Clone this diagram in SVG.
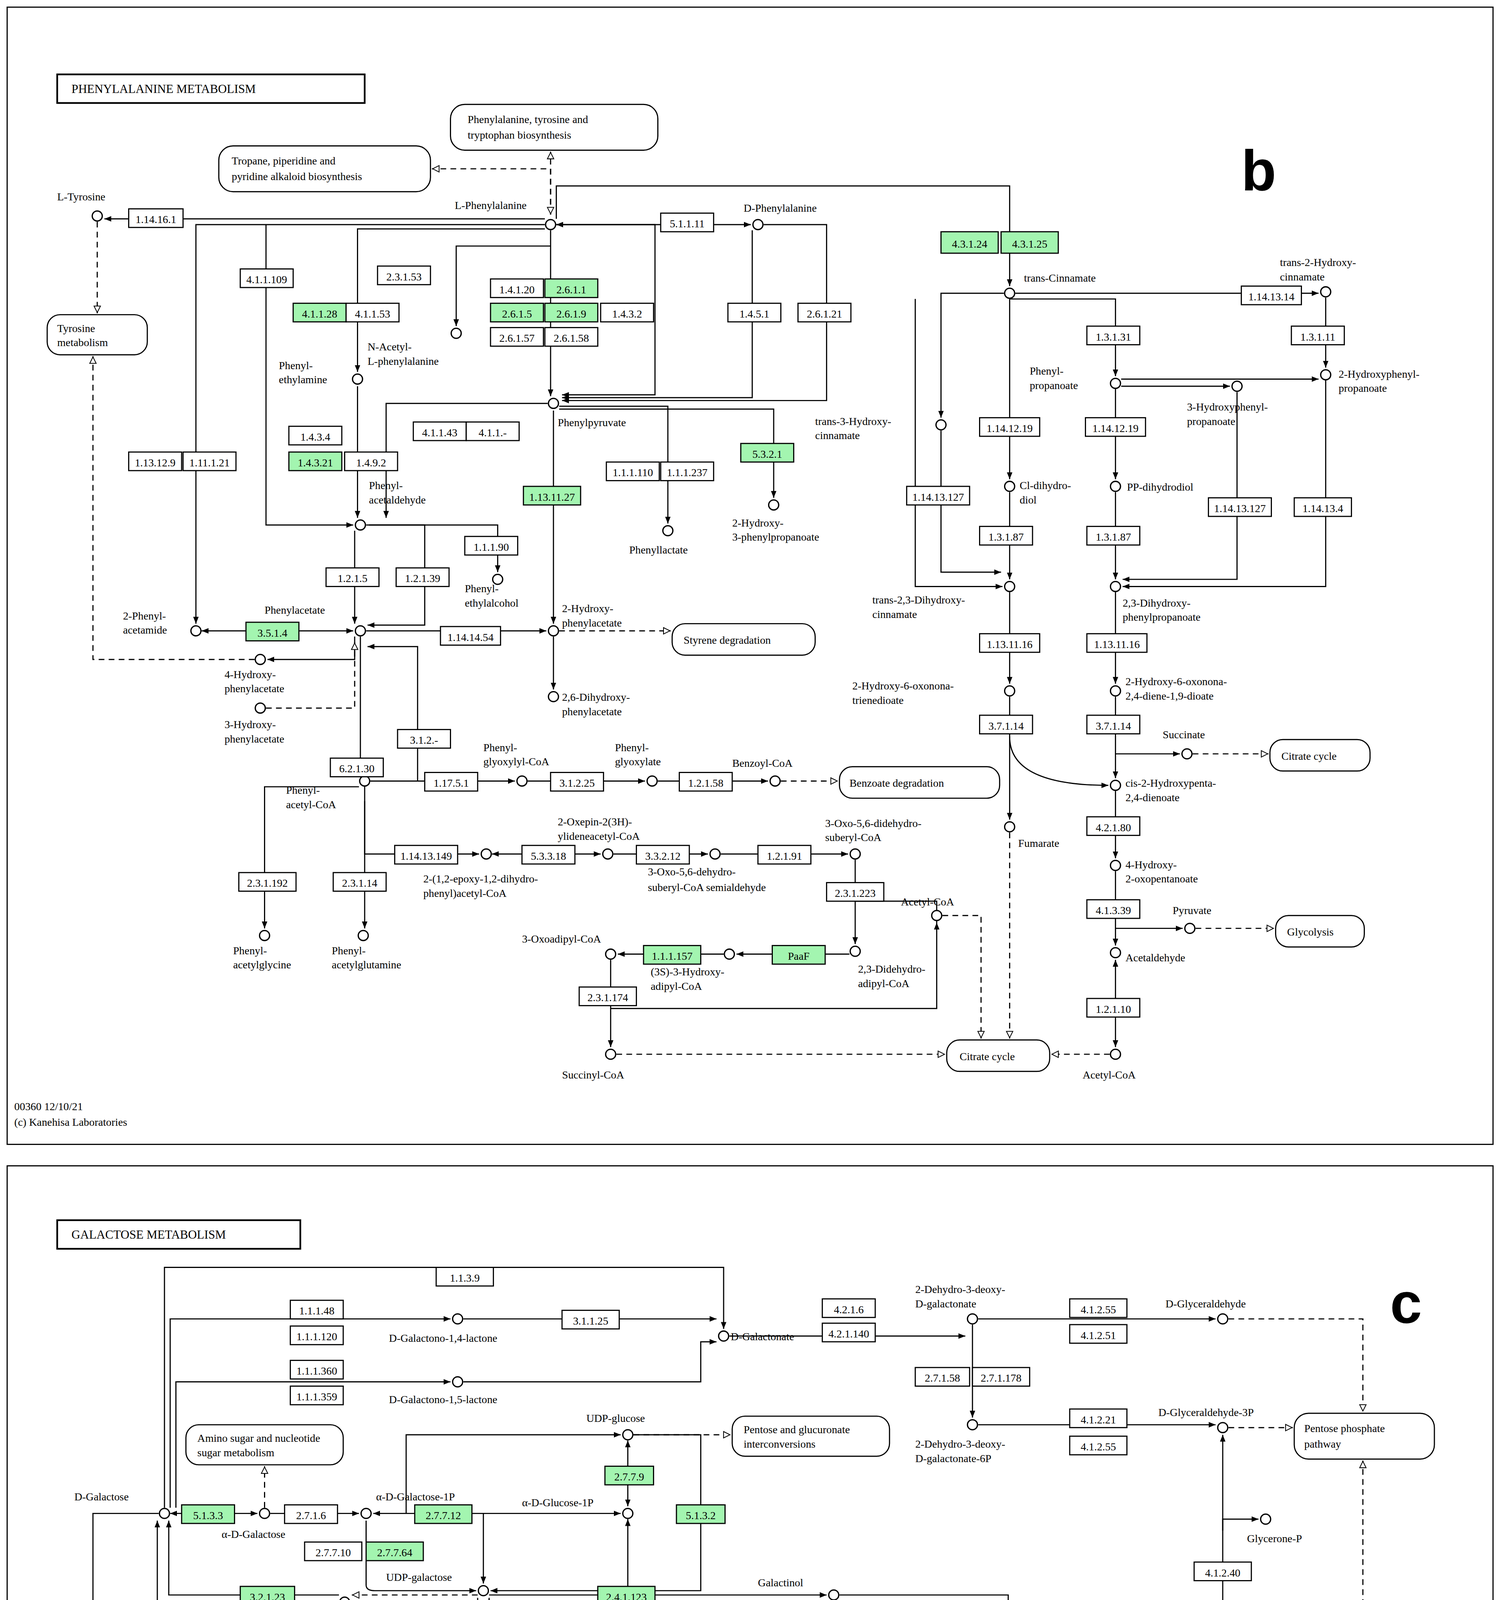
<svg xmlns="http://www.w3.org/2000/svg" width="3841" height="5739" viewBox="0 0 3841 5739">
<defs>
<marker id="a" viewBox="0 0 10 10" refX="10" refY="5" markerWidth="6" markerHeight="6" orient="auto-start-reverse"><path d="M0,1 L10,5 L0,9 Z" fill="#000"/></marker>
<marker id="o" viewBox="0 0 10 10" refX="10" refY="5" markerWidth="7" markerHeight="7" orient="auto-start-reverse"><path d="M1,1 L9,5 L1,9 Z" fill="#fff" stroke="#000"/></marker>
<style>
.e{fill:#fff;stroke:#000;stroke-width:0.8}
.g{fill:#a3f5b0;stroke:#000;stroke-width:0.8}
.m{fill:#fff;stroke:#000;stroke-width:0.8}
.l{font-family:"Liberation Serif",serif;font-size:7.6px;text-anchor:middle}
.n{font-family:"Liberation Serif",serif;font-size:7.6px}
.c{fill:#fff;stroke:#000;stroke-width:0.9}
.s{fill:none;stroke:#000;stroke-width:0.8}
.s path{marker-end:url(#a)}
.d{fill:none;stroke:#000;stroke-width:0.8;stroke-dasharray:4,3}
.d path{marker-end:url(#o)}
.big{font-family:"Liberation Sans",sans-serif;font-weight:bold;font-size:40px}
.t{font-family:"Liberation Serif",serif;font-size:8.5px}
</style>
</defs>
<rect width="3841" height="5739" fill="#fff"/>
<g transform="scale(3.662)">
<rect x="5" y="5" width="1039" height="795" fill="none" stroke="#000" stroke-width="0.8"/>
<rect x="5" y="815" width="1039" height="747" fill="none" stroke="#000" stroke-width="0.8"/>
<g id="titleb"><rect x="40" y="52" width="215" height="20" fill="#fff" stroke="#000" stroke-width="1.2"/><text class="t" x="50" y="65">PHENYLALANINE METABOLISM</text></g>
<text class="big" x="868" y="133">b</text>
<g id="titlec"><rect x="40" y="853" width="170" height="20" fill="#fff" stroke="#000" stroke-width="1.2"/><text class="t" x="50" y="866">GALACTOSE METABOLISM</text></g>
<text class="big" x="972" y="925">c</text>
<text class="n" x="10" y="776">00360 12/10/21</text><text class="n" x="10" y="787">(c) Kanehisa Laboratories</text>
<text class="n" x="10" y="1543">00052 8/20/21</text><text class="n" x="10" y="1554">(c) Kanehisa Laboratories</text>

<g id="connectors">
<g class="s">
<path d="M381,153 H73"/>
<path d="M389,157 H525" marker-start="url(#a)"/>
<path d="M526,161 V278 H393"/>
<path d="M534,157 H578 V280 H393"/>
<path d="M385,161 V277"/>
<path d="M389,157 H458 V276 H393"/>
<path d="M389,153 V130 H706 V200"/>
<path d="M381,160 H250 V260"/>
<path d="M385,172 H319 V228"/>
<path d="M381,157 H137 V436"/>
<path d="M186,157 V367 H247"/>
<path d="M250,270 V362"/>
<path d="M383,282 H270 V362"/>
<path d="M391,284 H467 V366"/>
<path d="M391,286 H541 V348"/>
<path d="M387,287 V436"/>
<path d="M387,445 V482"/>
<path d="M256,367 H348 V400"/>
<path d="M248,371 V436"/>
<path d="M258,367 H297 V437 H257"/>
<path d="M141,441 H247" marker-start="url(#a)"/>
<path d="M256,441 H382"/>
<path d="M248,445 V461 H187"/>
<path d="M252,445 V541"/>
<path d="M259,546 H292 V452 H257"/>
<path d="M259,546 H360"/>
<path d="M369,546 H451"/>
<path d="M460,546 H537"/>
<path d="M255,550 V597 H335"/>
<path d="M344,597 H420" marker-start="url(#a)"/>
<path d="M429,597 H495"/>
<path d="M504,597 H593"/>
<path d="M598,601 V660"/>
<path d="M598,630 H655 V645"/>
<path d="M594,667 H515"/>
<path d="M506,667 H432"/>
<path d="M427,671 V732"/>
<path d="M427,705 H655 V645"/>
<path d="M251,550 H185 V649"/>
<path d="M255,560 V649"/>
<path d="M710,205 H922"/>
<path d="M927,208 V257"/>
<path d="M706,209 H780 V263"/>
<path d="M702,205 H658 V292"/>
<path d="M706,209 V335"/>
<path d="M640,209 V410 H701"/>
<path d="M706,344 V405"/>
<path d="M658,301 V400 H700"/>
<path d="M784,265 H922"/>
<path d="M784,270 H860"/>
<path d="M780,272 V335"/>
<path d="M780,344 V405"/>
<path d="M865,274 V405 H785"/>
<path d="M927,266 V410 H785"/>
<path d="M706,414 V478"/>
<path d="M780,414 V478"/>
<path d="M706,487 V573"/>
<path d="M706,515 Q706,549 775,549"/>
<path d="M780,487 V544"/>
<path d="M780,527 H825"/>
<path d="M780,553 V600"/>
<path d="M780,609 V661"/>
<path d="M780,649 H827"/>
<path d="M780,732 V671" marker-start="url(#a)"/>
</g>
<g class="d">
<path d="M68,155 V219"/>
<path d="M178,461 H65 V249"/>
<path d="M186,495 H248 V449"/>
<path d="M385,150 V118 H302"/>
<path d="M385,150 V106" marker-start="url(#o)"/>
<path d="M391,441 H469"/>
<path d="M546,546 H586"/>
<path d="M659,640 H686 V726"/>
<path d="M431,737 H661"/>
<path d="M776,737 H735"/>
<path d="M706,582 V726"/>
<path d="M834,527 H887"/>
<path d="M836,649 H891"/>
</g>
<!-- panel c -->
<g class="s">
<path d="M119,1058 H180" marker-start="url(#a)"/>
<path d="M189,1058 H251"/>
<path d="M261,1058 H434" marker-start="url(#a)"/>
<path d="M338,1058 V1107"/>
<path d="M256,1063 V1108 Q256,1112 262,1112 H333"/>
<path d="M284,1058 V1003 H434"/>
<path d="M439,1007 V1053" marker-start="url(#a)"/>
<path d="M443,1003 H490 V1112 H343"/>
<path d="M342,1115 H578"/>
<path d="M342,1117 V1158" marker-start="url(#a)"/>
<path d="M334,1117 V1162 H245"/>
<path d="M236,1162 H110 V1063"/>
<path d="M237,1115 H118 V1063"/>
<path d="M240,1166 V1268"/>
<path d="M236,1162 H137 V1219 H307"/>
<path d="M240,1277 V1412"/>
<path d="M316,1219 H434" marker-start="url(#a)"/>
<path d="M439,1062 V1214" marker-start="url(#a)"/>
<path d="M312,1214 V1198 H434 V1214"/>
<path d="M583,1119 V1130 H546 V1175"/>
<path d="M550,1182 H678"/>
<path d="M546,1184 V1221"/>
<path d="M546,1230 V1279"/>
<path d="M546,1288 V1320 H610"/>
<path d="M615,1182 V1315"/>
<path d="M615,1324 V1382"/>
<path d="M610,1324 H546 V1382"/>
<path d="M542,1182 H480 V1387 H541"/>
<path d="M542,1226 H510 V1383 H543"/>
<path d="M683,1186 V1382"/>
<path d="M683,1350 H620 V1382"/>
<path d="M587,1115 H705 V1370 H622 V1382"/>
<path d="M111,1058 H65 V1456 H390"/>
<path d="M65,1250 H138"/><path d="M80,1250 V1274"/>
<path d="M65,1302 H138"/><path d="M80,1302 V1326"/>
<path d="M65,1356 H138"/><path d="M80,1356 V1378"/>
<path d="M65,1408 H138"/><path d="M80,1408 V1432"/>
<path d="M399,1462 H628" marker-start="url(#a)"/>
<path d="M395,1466 V1487 H628"/>
<path d="M637,1487 H847 V1467"/>
<path d="M637,1462 H846" marker-start="url(#a)"/>
<path d="M855,1462 H948"/>
<path d="M244,1417 H843 V1457"/>
<path d="M115,1054 V886 H506 V929"/>
<path d="M119,1054 V922 H315"/>
<path d="M123,1054 V966 H315"/>
<path d="M324,922 H501"/>
<path d="M324,966 H490 V938 H501"/>
<path d="M510,934 H675"/>
<path d="M684,922 H850"/>
<path d="M680,926 V991"/>
<path d="M684,996 H850"/>
<path d="M855,1201 V1003"/>
<path d="M855,1070 V1062 H880"/>
<path d="M852,1457 V1210" marker-start="url(#a)"/>
<path d="M764,1219 V1270"/>
<path d="M764,1279 V1366"/>
<path d="M720,1291 V1371 H759"/>
<path d="M768,1371 H846 V1457"/>
</g>
<g class="d">
<path d="M185,1054 V1025"/>
<path d="M443,1003 H511"/>
<path d="M439,1223 V1261"/>
<path d="M312,1294 V1224"/>
<path d="M953,1458 V1021"/>
<path d="M859,922 H953 V987"/>
<path d="M859,998 H904"/>
<path d="M334,1115 H246"/>
</g>
</g>

<g id="n_pathways">
<g id="pw1"><rect class="m" x="33" y="220" width="70" height="28" rx="9"/><text class="n" x="40" y="232">Tyrosine</text><text class="n" x="40" y="242">metabolism</text></g>
<g id="pw2"><rect class="m" x="153" y="102" width="148" height="32" rx="10"/><text class="n" x="162" y="115">Tropane, piperidine and</text><text class="n" x="162" y="126">pyridine alkaloid biosynthesis</text></g>
<g id="pw3"><rect class="m" x="315" y="73" width="145" height="32" rx="10"/><text class="n" x="327" y="86">Phenylalanine, tyrosine and</text><text class="n" x="327" y="97">tryptophan biosynthesis</text></g>
<g id="pw4"><rect class="m" x="470" y="436" width="100" height="22" rx="9"/><text class="n" x="478" y="450">Styrene degradation</text></g>
<g id="pw5"><rect class="m" x="587" y="536" width="112" height="22" rx="9"/><text class="n" x="594" y="550">Benzoate degradation</text></g>
<g id="pw6"><rect class="m" x="662" y="727" width="72" height="22" rx="9"/><text class="n" x="671" y="741">Citrate cycle</text></g>
<g id="pw7"><rect class="m" x="888" y="517" width="70" height="22" rx="9"/><text class="n" x="896" y="531">Citrate cycle</text></g>
<g id="pw8"><rect class="m" x="892" y="640" width="62" height="22" rx="9"/><text class="n" x="900" y="654">Glycolysis</text></g>
</g>
<g id="cpd_b">
<circle class="c" cx="68" cy="151" r="3.5"/><text class="n" x="40" y="140">L-Tyrosine</text>
<circle class="c" cx="385" cy="157" r="3.5"/><text class="n" x="318" y="146">L-Phenylalanine</text>
<circle class="c" cx="530" cy="157" r="3.5"/><text class="n" x="520" y="148">D-Phenylalanine</text>
<circle class="c" cx="706" cy="205" r="3.5"/><text class="n" x="716" y="197">trans-Cinnamate</text>
<circle class="c" cx="927" cy="204" r="3.5"/><text class="n" x="895" y="186">trans-2-Hydroxy-</text><text class="n" x="895" y="196">cinnamate</text>
<circle class="c" cx="927" cy="262" r="3.5"/><text class="n" x="936" y="264">2-Hydroxyphenyl-</text><text class="n" x="936" y="274">propanoate</text>
<circle class="c" cx="780" cy="268" r="3.5"/><text class="n" x="720" y="262">Phenyl-</text><text class="n" x="720" y="272">propanoate</text>
<circle class="c" cx="865" cy="270" r="3.5"/><text class="n" x="830" y="287">3-Hydroxyphenyl-</text><text class="n" x="830" y="297">propanoate</text>
<circle class="c" cx="658" cy="297" r="3.5"/><text class="n" x="570" y="297">trans-3-Hydroxy-</text><text class="n" x="570" y="307">cinnamate</text>
<circle class="c" cx="706" cy="340" r="3.5"/><text class="n" x="713" y="342">Cl-dihydro-</text><text class="n" x="713" y="352">diol</text>
<circle class="c" cx="780" cy="340" r="3.5"/><text class="n" x="788" y="343">PP-dihydrodiol</text>
<circle class="c" cx="706" cy="410" r="3.5"/><text class="n" x="610" y="422">trans-2,3-Dihydroxy-</text><text class="n" x="610" y="432">cinnamate</text>
<circle class="c" cx="780" cy="410" r="3.5"/><text class="n" x="785" y="424">2,3-Dihydroxy-</text><text class="n" x="785" y="434">phenylpropanoate</text>
<circle class="c" cx="706" cy="483" r="3.5"/><text class="n" x="596" y="482">2-Hydroxy-6-oxonona-</text><text class="n" x="596" y="492">trienedioate</text>
<circle class="c" cx="780" cy="483" r="3.5"/><text class="n" x="787" y="479">2-Hydroxy-6-oxonona-</text><text class="n" x="787" y="489">2,4-diene-1,9-dioate</text>
<circle class="c" cx="830" cy="527" r="3.5"/><text class="n" x="813" y="516">Succinate</text>
<circle class="c" cx="780" cy="549" r="3.5"/><text class="n" x="787" y="550">cis-2-Hydroxypenta-</text><text class="n" x="787" y="560">2,4-dienoate</text>
<circle class="c" cx="706" cy="578" r="3.5"/><text class="n" x="712" y="592">Fumarate</text>
<circle class="c" cx="780" cy="605" r="3.5"/><text class="n" x="787" y="607">4-Hydroxy-</text><text class="n" x="787" y="617">2-oxopentanoate</text>
<circle class="c" cx="832" cy="649" r="3.5"/><text class="n" x="820" y="639">Pyruvate</text>
<circle class="c" cx="780" cy="666" r="3.5"/><text class="n" x="787" y="672">Acetaldehyde</text>
<circle class="c" cx="780" cy="737" r="3.5"/><text class="n" x="757" y="754">Acetyl-CoA</text>
<circle class="c" cx="427" cy="737" r="3.5"/><text class="n" x="393" y="754">Succinyl-CoA</text>
<circle class="c" cx="655" cy="640" r="3.5"/><text class="n" x="630" y="633">Acetyl-CoA</text>
<circle class="c" cx="427" cy="667" r="3.5"/><text class="n" x="365" y="659">3-Oxoadipyl-CoA</text>
<circle class="c" cx="510" cy="667" r="3.5"/><text class="n" x="455" y="682">(3S)-3-Hydroxy-</text><text class="n" x="455" y="692">adipyl-CoA</text>
<circle class="c" cx="598" cy="665" r="3.5"/><text class="n" x="600" y="680">2,3-Didehydro-</text><text class="n" x="600" y="690">adipyl-CoA</text>
<circle class="c" cx="598" cy="597" r="3.5"/><text class="n" x="577" y="578">3-Oxo-5,6-didehydro-</text><text class="n" x="577" y="588">suberyl-CoA</text>
<circle class="c" cx="500" cy="597" r="3.5"/><text class="n" x="453" y="612">3-Oxo-5,6-dehydro-</text><text class="n" x="453" y="623">suberyl-CoA semialdehyde</text>
<circle class="c" cx="425" cy="597" r="3.5"/><text class="n" x="390" y="577">2-Oxepin-2(3H)-</text><text class="n" x="390" y="587">ylideneacetyl-CoA</text>
<circle class="c" cx="340" cy="597" r="3.5"/><text class="n" x="296" y="617">2-(1,2-epoxy-1,2-dihydro-</text><text class="n" x="296" y="627">phenyl)acetyl-CoA</text>
<circle class="c" cx="255" cy="546" r="3.5"/><text class="n" x="200" y="555">Phenyl-</text><text class="n" x="200" y="565">acetyl-CoA</text>
<circle class="c" cx="365" cy="546" r="3.5"/><text class="n" x="338" y="525">Phenyl-</text><text class="n" x="338" y="535">glyoxylyl-CoA</text>
<circle class="c" cx="456" cy="546" r="3.5"/><text class="n" x="430" y="525">Phenyl-</text><text class="n" x="430" y="535">glyoxylate</text>
<circle class="c" cx="542" cy="546" r="3.5"/><text class="n" x="512" y="536">Benzoyl-CoA</text>
<circle class="c" cx="185" cy="654" r="3.5"/><text class="n" x="163" y="667">Phenyl-</text><text class="n" x="163" y="677">acetylglycine</text>
<circle class="c" cx="254" cy="654" r="3.5"/><text class="n" x="232" y="667">Phenyl-</text><text class="n" x="232" y="677">acetylglutamine</text>
<circle class="c" cx="252" cy="441" r="3.5"/><text class="n" x="185" y="429">Phenylacetate</text>
<circle class="c" cx="137" cy="441" r="3.5"/><text class="n" x="86" y="433">2-Phenyl-</text><text class="n" x="86" y="443">acetamide</text>
<circle class="c" cx="182" cy="461" r="3.5"/><text class="n" x="157" y="474">4-Hydroxy-</text><text class="n" x="157" y="484">phenylacetate</text>
<circle class="c" cx="182" cy="495" r="3.5"/><text class="n" x="157" y="509">3-Hydroxy-</text><text class="n" x="157" y="519">phenylacetate</text>
<circle class="c" cx="387" cy="441" r="3.5"/><text class="n" x="393" y="428">2-Hydroxy-</text><text class="n" x="393" y="438">phenylacetate</text>
<circle class="c" cx="387" cy="487" r="3.5"/><text class="n" x="393" y="490">2,6-Dihydroxy-</text><text class="n" x="393" y="500">phenylacetate</text>
<circle class="c" cx="348" cy="405" r="3.5"/><text class="n" x="325" y="414">Phenyl-</text><text class="n" x="325" y="424">ethylalcohol</text>
<circle class="c" cx="252" cy="367" r="3.5"/><text class="n" x="258" y="342">Phenyl-</text><text class="n" x="258" y="352">acetaldehyde</text>
<circle class="c" cx="250" cy="265" r="3.5"/><text class="n" x="195" y="258">Phenyl-</text><text class="n" x="195" y="268">ethylamine</text>
<circle class="c" cx="319" cy="233" r="3.5"/><text class="n" x="257" y="245">N-Acetyl-</text><text class="n" x="257" y="255">L-phenylalanine</text>
<circle class="c" cx="387" cy="282" r="3.5"/><text class="n" x="390" y="298">Phenylpyruvate</text>
<circle class="c" cx="467" cy="371" r="3.5"/><text class="n" x="440" y="387">Phenyllactate</text>
<circle class="c" cx="541" cy="353" r="3.5"/><text class="n" x="512" y="368">2-Hydroxy-</text><text class="n" x="512" y="378">3-phenylpropanoate</text>
</g>
<g id="enz_b">
<g><rect class="e" x="90" y="146" width="38" height="13"/><text class="l" x="109" y="156">1.14.16.1</text></g>
<g><rect class="e" x="168" y="188" width="37" height="13"/><text class="l" x="186.5" y="198">4.1.1.109</text></g>
<g><rect class="e" x="264" y="186" width="37" height="13"/><text class="l" x="282.5" y="196">2.3.1.53</text></g>
<g><rect class="e" x="343" y="195" width="37" height="13"/><text class="l" x="361.5" y="205">1.4.1.20</text></g>
<g><rect class="g" x="381" y="195" width="37" height="13"/><text class="l" x="399.5" y="205">2.6.1.1</text></g>
<g><rect class="g" x="343" y="212" width="37" height="13"/><text class="l" x="361.5" y="222">2.6.1.5</text></g>
<g><rect class="g" x="381" y="212" width="37" height="13"/><text class="l" x="399.5" y="222">2.6.1.9</text></g>
<g><rect class="e" x="343" y="229" width="37" height="13"/><text class="l" x="361.5" y="239">2.6.1.57</text></g>
<g><rect class="e" x="381" y="229" width="37" height="13"/><text class="l" x="399.5" y="239">2.6.1.58</text></g>
<g><rect class="e" x="420" y="212" width="37" height="13"/><text class="l" x="438.5" y="222">1.4.3.2</text></g>
<g><rect class="e" x="462" y="149" width="37" height="13"/><text class="l" x="480.5" y="159">5.1.1.11</text></g>
<g><rect class="e" x="509" y="212" width="37" height="13"/><text class="l" x="527.5" y="222">1.4.5.1</text></g>
<g><rect class="e" x="558" y="212" width="37" height="13"/><text class="l" x="576.5" y="222">2.6.1.21</text></g>
<g><rect class="g" x="205" y="212" width="37" height="13"/><text class="l" x="223.5" y="222">4.1.1.28</text></g>
<g><rect class="e" x="242" y="212" width="37" height="13"/><text class="l" x="260.5" y="222">4.1.1.53</text></g>
<g><rect class="e" x="202" y="298" width="37" height="13"/><text class="l" x="220.5" y="308">1.4.3.4</text></g>
<g><rect class="g" x="202" y="316" width="37" height="13"/><text class="l" x="220.5" y="326">1.4.3.21</text></g>
<g><rect class="e" x="241" y="316" width="37" height="13"/><text class="l" x="259.5" y="326">1.4.9.2</text></g>
<g><rect class="e" x="289" y="295" width="37" height="13"/><text class="l" x="307.5" y="305">4.1.1.43</text></g>
<g><rect class="e" x="326" y="295" width="37" height="13"/><text class="l" x="344.5" y="305">4.1.1.-</text></g>
<g><rect class="e" x="90" y="316" width="37" height="13"/><text class="l" x="108.5" y="326">1.13.12.9</text></g>
<g><rect class="e" x="128" y="316" width="37" height="13"/><text class="l" x="146.5" y="326">1.11.1.21</text></g>
<g><rect class="g" x="366" y="340" width="40" height="13"/><text class="l" x="386" y="350">1.13.11.27</text></g>
<g><rect class="e" x="424" y="323" width="37" height="13"/><text class="l" x="442.5" y="333">1.1.1.110</text></g>
<g><rect class="e" x="462" y="323" width="37" height="13"/><text class="l" x="480.5" y="333">1.1.1.237</text></g>
<g><rect class="g" x="518" y="310" width="37" height="13"/><text class="l" x="536.5" y="320">5.3.2.1</text></g>
<g><rect class="e" x="325" y="375" width="37" height="13"/><text class="l" x="343.5" y="385">1.1.1.90</text></g>
<g><rect class="e" x="228" y="397" width="37" height="13"/><text class="l" x="246.5" y="407">1.2.1.5</text></g>
<g><rect class="e" x="277" y="397" width="37" height="13"/><text class="l" x="295.5" y="407">1.2.1.39</text></g>
<g><rect class="g" x="172" y="435" width="37" height="13"/><text class="l" x="190.5" y="445">3.5.1.4</text></g>
<g><rect class="e" x="308" y="438" width="42" height="13"/><text class="l" x="329" y="448">1.14.14.54</text></g>
<g><rect class="e" x="278" y="510" width="37" height="13"/><text class="l" x="296.5" y="520">3.1.2.-</text></g>
<g><rect class="e" x="231" y="530" width="37" height="13"/><text class="l" x="249.5" y="540">6.2.1.30</text></g>
<g><rect class="e" x="297" y="540" width="37" height="13"/><text class="l" x="315.5" y="550">1.17.5.1</text></g>
<g><rect class="e" x="385" y="540" width="37" height="13"/><text class="l" x="403.5" y="550">3.1.2.25</text></g>
<g><rect class="e" x="475" y="540" width="37" height="13"/><text class="l" x="493.5" y="550">1.2.1.58</text></g>
<g><rect class="e" x="276" y="591" width="44" height="13"/><text class="l" x="298" y="601">1.14.13.149</text></g>
<g><rect class="e" x="365" y="591" width="37" height="13"/><text class="l" x="383.5" y="601">5.3.3.18</text></g>
<g><rect class="e" x="445" y="591" width="37" height="13"/><text class="l" x="463.5" y="601">3.3.2.12</text></g>
<g><rect class="e" x="530" y="591" width="37" height="13"/><text class="l" x="548.5" y="601">1.2.1.91</text></g>
<g><rect class="e" x="578" y="617" width="40" height="13"/><text class="l" x="598" y="627">2.3.1.223</text></g>
<g><rect class="e" x="167" y="610" width="40" height="13"/><text class="l" x="187" y="620">2.3.1.192</text></g>
<g><rect class="e" x="233" y="610" width="37" height="13"/><text class="l" x="251.5" y="620">2.3.1.14</text></g>
<g><rect class="g" x="450" y="661" width="40" height="13"/><text class="l" x="470" y="671">1.1.1.157</text></g>
<g><rect class="g" x="540" y="661" width="37" height="13"/><text class="l" x="558.5" y="671">PaaF</text></g>
<g><rect class="e" x="405" y="690" width="40" height="13"/><text class="l" x="425" y="700">2.3.1.174</text></g>
<g><rect class="g" x="658" y="162" width="40" height="15"/><text class="l" x="678" y="173">4.3.1.24</text></g>
<g><rect class="g" x="700" y="162" width="40" height="15"/><text class="l" x="720" y="173">4.3.1.25</text></g>
<g><rect class="e" x="868" y="200" width="42" height="13"/><text class="l" x="889" y="210">1.14.13.14</text></g>
<g><rect class="e" x="760" y="228" width="37" height="13"/><text class="l" x="778.5" y="238">1.3.1.31</text></g>
<g><rect class="e" x="903" y="228" width="37" height="13"/><text class="l" x="921.5" y="238">1.3.1.11</text></g>
<g><rect class="e" x="685" y="292" width="42" height="13"/><text class="l" x="706" y="302">1.14.12.19</text></g>
<g><rect class="e" x="759" y="292" width="42" height="13"/><text class="l" x="780" y="302">1.14.12.19</text></g>
<g><rect class="e" x="634" y="340" width="44" height="13"/><text class="l" x="656" y="350">1.14.13.127</text></g>
<g><rect class="e" x="845" y="348" width="44" height="13"/><text class="l" x="867" y="358">1.14.13.127</text></g>
<g><rect class="e" x="905" y="348" width="40" height="13"/><text class="l" x="925" y="358">1.14.13.4</text></g>
<g><rect class="e" x="685" y="368" width="37" height="13"/><text class="l" x="703.5" y="378">1.3.1.87</text></g>
<g><rect class="e" x="760" y="368" width="37" height="13"/><text class="l" x="778.5" y="378">1.3.1.87</text></g>
<g><rect class="e" x="685" y="443" width="42" height="13"/><text class="l" x="706" y="453">1.13.11.16</text></g>
<g><rect class="e" x="760" y="443" width="42" height="13"/><text class="l" x="781" y="453">1.13.11.16</text></g>
<g><rect class="e" x="685" y="500" width="37" height="13"/><text class="l" x="703.5" y="510">3.7.1.14</text></g>
<g><rect class="e" x="760" y="500" width="37" height="13"/><text class="l" x="778.5" y="510">3.7.1.14</text></g>
<g><rect class="e" x="760" y="571" width="37" height="13"/><text class="l" x="778.5" y="581">4.2.1.80</text></g>
<g><rect class="e" x="760" y="629" width="37" height="13"/><text class="l" x="778.5" y="639">4.1.3.39</text></g>
<g><rect class="e" x="760" y="698" width="37" height="13"/><text class="l" x="778.5" y="708">1.2.1.10</text></g>
</g>

<g id="pw_c">
<g><rect class="m" x="512" y="990" width="110" height="28" rx="9"/><text class="n" x="520" y="1002">Pentose and glucuronate</text><text class="n" x="520" y="1012">interconversions</text></g>
<g><rect class="m" x="130" y="996" width="110" height="28" rx="9"/><text class="n" x="138" y="1008">Amino sugar and nucleotide</text><text class="n" x="138" y="1018">sugar metabolism</text></g>
<g><rect class="m" x="410" y="1262" width="62" height="22" rx="9"/><text class="n" x="418" y="1276">Glycolysis</text></g>
<g><rect class="m" x="268" y="1296" width="105" height="28" rx="9"/><text class="n" x="276" y="1308">Fructose and mannose</text><text class="n" x="276" y="1318">metabolism</text></g>
<g><rect class="m" x="905" y="988" width="98" height="32" rx="10"/><text class="n" x="912" y="1001">Pentose phosphate</text><text class="n" x="912" y="1012">pathway</text></g>
</g>
<g id="cpd_c">
<circle class="c" cx="115" cy="1058" r="3.5"/><text class="n" x="52" y="1049">D-Galactose</text>
<circle class="c" cx="185" cy="1058" r="3.5"/><text class="n" x="155" y="1075">α-D-Galactose</text>
<circle class="c" cx="256" cy="1058" r="3.5"/><text class="n" x="263" y="1049">α-D-Galactose-1P</text>
<circle class="c" cx="338" cy="1112" r="3.5"/><text class="n" x="270" y="1105">UDP-galactose</text>
<circle class="c" cx="439" cy="1003" r="3.5"/><text class="n" x="410" y="994">UDP-glucose</text>
<circle class="c" cx="439" cy="1058" r="3.5"/><text class="n" x="365" y="1053">α-D-Glucose-1P</text>
<circle class="c" cx="241" cy="1120" r="3.5"/><text class="n" x="226" y="1137">Galactan</text>
<circle class="c" cx="240" cy="1162" r="3.5"/><text class="n" x="226" y="1158">Lactose</text>
<circle class="c" cx="342" cy="1163" r="3.5"/><text class="n" x="350" y="1162">UDP-D-</text><text class="n" x="350" y="1172">galactofuranose</text>
<circle class="c" cx="583" cy="1115" r="3.5"/><text class="n" x="530" y="1109">Galactinol</text>
<circle class="c" cx="546" cy="1180" r="3.5"/><text class="n" x="513" y="1175">Raffinose</text>
<circle class="c" cx="683" cy="1182" r="3.5"/><text class="n" x="692" y="1185">Sucrose</text>
<circle class="c" cx="546" cy="1226" r="3.5"/><text class="n" x="555" y="1229">Stachyose</text>
<circle class="c" cx="546" cy="1284" r="3.5"/><text class="n" x="555" y="1287">Manninotriose</text>
<circle class="c" cx="615" cy="1320" r="3.5"/><text class="n" x="625" y="1323">Melibiose</text>
<circle class="c" cx="312" cy="1219" r="3.5"/><text class="n" x="267" y="1235">α-D-Glucose</text>
<circle class="c" cx="439" cy="1219" r="3.5"/><text class="n" x="405" y="1235">α-D-Glucose-6P</text>
<circle class="c" cx="240" cy="1273" r="3.5"/><text class="n" x="247" y="1276">Lactose-6P</text>
<circle class="c" cx="240" cy="1417" r="3.5"/><text class="n" x="215" y="1433">D-Galactose-6P</text>
<circle class="c" cx="546" cy="1387" r="3.5"/><text class="n" x="520" y="1403">D-Galactose</text>
<circle class="c" cx="616" cy="1387" r="3.5"/><text class="n" x="595" y="1403">D-Glucose</text>
<circle class="c" cx="681" cy="1387" r="3.5"/><text class="n" x="663" y="1403">D-Fructose</text>
<circle class="c" cx="320" cy="922" r="3.5"/><text class="n" x="272" y="938">D-Galactono-1,4-lactone</text>
<circle class="c" cx="320" cy="966" r="3.5"/><text class="n" x="272" y="981">D-Galactono-1,5-lactone</text>
<circle class="c" cx="506" cy="934" r="3.5"/><text class="n" x="511" y="937">D-Galactonate</text>
<circle class="c" cx="680" cy="922" r="3.5"/><text class="n" x="640" y="904">2-Dehydro-3-deoxy-</text><text class="n" x="640" y="914">D-galactonate</text>
<circle class="c" cx="680" cy="996" r="3.5"/><text class="n" x="640" y="1012">2-Dehydro-3-deoxy-</text><text class="n" x="640" y="1022">D-galactonate-6P</text>
<circle class="c" cx="855" cy="922" r="3.5"/><text class="n" x="815" y="914">D-Glyceraldehyde</text>
<circle class="c" cx="855" cy="998" r="3.5"/><text class="n" x="810" y="990">D-Glyceraldehyde-3P</text>
<circle class="c" cx="885" cy="1062" r="3.5"/><text class="n" x="872" y="1078">Glycerone-P</text>
<circle class="c" cx="855" cy="1205" r="3.5"/><text class="n" x="862" y="1208">D-Tagatose-1,6P2</text>
<circle class="c" cx="764" cy="1215" r="3.5"/><text class="n" x="738" y="1193">N-Acetyl-</text><text class="n" x="738" y="1203">D-galactosamine</text>
<circle class="c" cx="764" cy="1275" r="3.5"/><text class="n" x="770" y="1268">N-Acetyl-</text><text class="n" x="770" y="1278">D-galactosamine-6P</text>
<circle class="c" cx="720" cy="1287" r="3.5"/><text class="n" x="686" y="1283">D-Galactosamine</text>
<circle class="c" cx="764" cy="1371" r="3.5"/><text class="n" x="738" y="1388">D-Galactosamine-6P</text>
<circle class="c" cx="851" cy="1462" r="3.5"/><text class="n" x="780" y="1473">D-Tagatose-6P</text>
<circle class="c" cx="953" cy="1462" r="3.5"/><text class="n" x="930" y="1478">D-Fructose-6P</text>
<circle class="c" cx="633" cy="1462" r="3.5"/><text class="n" x="605" y="1451">D-Tagatose</text>
<circle class="c" cx="395" cy="1462" r="3.5"/><text class="n" x="377" y="1453">Galactitol</text>
<circle class="c" cx="633" cy="1487" r="3.5"/><text class="n" x="608" y="1503">Galactitol-1P</text>
<circle class="c" cx="143" cy="1250" r="3.5"/><text class="n" x="152" y="1253">Galactinol</text>
<circle class="c" cx="80" cy="1279" r="3.5"/><text class="n" x="88" y="1282">D-myo-Inositol</text>
<circle class="c" cx="143" cy="1302" r="3.5"/><text class="n" x="152" y="1305">Melibiitol</text>
<circle class="c" cx="80" cy="1331" r="3.5"/><text class="n" x="88" y="1334">D-Sorbitol</text>
<circle class="c" cx="143" cy="1356" r="3.5"/><text class="n" x="152" y="1359">Epimelibiose</text>
<circle class="c" cx="80" cy="1383" r="3.5"/><text class="n" x="88" y="1386">D-Mannose</text>
<circle class="c" cx="143" cy="1408" r="3.5"/><text class="n" x="152" y="1406">Galactosyl-</text><text class="n" x="152" y="1416">glycerol</text>
<circle class="c" cx="80" cy="1437" r="3.5"/><text class="n" x="88" y="1440">Glycerol</text>
</g>
<g id="enz_c">
<g><rect class="e" x="305" y="886" width="40" height="13"/><text class="l" x="325" y="896">1.1.3.9</text></g>
<g><rect class="e" x="203" y="909" width="37" height="13"/><text class="l" x="221.5" y="919">1.1.1.48</text></g>
<g><rect class="e" x="203" y="927" width="37" height="13"/><text class="l" x="221.5" y="937">1.1.1.120</text></g>
<g><rect class="e" x="203" y="951" width="37" height="13"/><text class="l" x="221.5" y="961">1.1.1.360</text></g>
<g><rect class="e" x="203" y="969" width="37" height="13"/><text class="l" x="221.5" y="979">1.1.1.359</text></g>
<g><rect class="e" x="393" y="916" width="40" height="13"/><text class="l" x="413" y="926">3.1.1.25</text></g>
<g><rect class="e" x="575" y="908" width="37" height="13"/><text class="l" x="593.5" y="918">4.2.1.6</text></g>
<g><rect class="e" x="575" y="925" width="37" height="13"/><text class="l" x="593.5" y="935">4.2.1.140</text></g>
<g><rect class="e" x="640" y="956" width="38" height="13"/><text class="l" x="659" y="966">2.7.1.58</text></g>
<g><rect class="e" x="680" y="956" width="40" height="13"/><text class="l" x="700" y="966">2.7.1.178</text></g>
<g><rect class="e" x="748" y="908" width="40" height="13"/><text class="l" x="768" y="918">4.1.2.55</text></g>
<g><rect class="e" x="748" y="926" width="40" height="13"/><text class="l" x="768" y="936">4.1.2.51</text></g>
<g><rect class="e" x="748" y="985" width="40" height="13"/><text class="l" x="768" y="995">4.1.2.21</text></g>
<g><rect class="e" x="748" y="1004" width="40" height="13"/><text class="l" x="768" y="1014">4.1.2.55</text></g>
<g><rect class="e" x="835" y="1092" width="40" height="13"/><text class="l" x="855" y="1102">4.1.2.40</text></g>
<g><rect class="g" x="127" y="1052" width="37" height="13"/><text class="l" x="145.5" y="1062">5.1.3.3</text></g>
<g><rect class="e" x="199" y="1052" width="37" height="13"/><text class="l" x="217.5" y="1062">2.7.1.6</text></g>
<g><rect class="g" x="290" y="1052" width="40" height="13"/><text class="l" x="310" y="1062">2.7.7.12</text></g>
<g><rect class="e" x="213" y="1078" width="40" height="13"/><text class="l" x="233" y="1088">2.7.7.10</text></g>
<g><rect class="g" x="256" y="1078" width="40" height="13"/><text class="l" x="276" y="1088">2.7.7.64</text></g>
<g><rect class="g" x="423" y="1025" width="34" height="13"/><text class="l" x="440" y="1035">2.7.7.9</text></g>
<g><rect class="g" x="473" y="1052" width="34" height="13"/><text class="l" x="490" y="1062">5.1.3.2</text></g>
<g><rect class="g" x="168" y="1109" width="38" height="13"/><text class="l" x="187" y="1119">3.2.1.23</text></g>
<g><rect class="g" x="418" y="1109" width="40" height="13"/><text class="l" x="438" y="1119">2.4.1.123</text></g>
<g><rect class="e" x="338" y="1135" width="38" height="13"/><text class="l" x="357" y="1145">5.4.99.9</text></g>
<g><rect class="g" x="153" y="1150" width="38" height="13"/><text class="l" x="172" y="1160">3.2.1.23</text></g>
<g><rect class="e" x="153" y="1167" width="38" height="13"/><text class="l" x="172" y="1177">3.2.1.108</text></g>
<g><rect class="e" x="272" y="1156" width="38" height="13"/><text class="l" x="291" y="1166">2.4.1.22</text></g>
<g><rect class="g" x="452" y="1158" width="34" height="13"/><text class="l" x="469" y="1168">5.4.2.2</text></g>
<g><rect class="g" x="527" y="1143" width="38" height="13"/><text class="l" x="546" y="1153">2.4.1.82</text></g>
<g><rect class="e" x="222" y="1192" width="40" height="13"/><text class="l" x="242" y="1202">2.7.1.207</text></g>
<g><rect class="e" x="355" y="1192" width="38" height="13"/><text class="l" x="374" y="1202">3.1.3.9</text></g>
<g><rect class="g" x="355" y="1207" width="38" height="13"/><text class="l" x="374" y="1217">2.7.1.1</text></g>
<g><rect class="e" x="355" y="1222" width="38" height="13"/><text class="l" x="374" y="1232">2.7.1.2</text></g>
<g><rect class="e" x="527" y="1195" width="38" height="13"/><text class="l" x="546" y="1205">2.4.1.67</text></g>
<g><rect class="g" x="620" y="1175" width="38" height="13"/><text class="l" x="639" y="1185">3.2.1.22</text></g>
<g><rect class="g" x="493" y="1218" width="38" height="13"/><text class="l" x="512" y="1228">3.2.1.22</text></g>
<g><rect class="g" x="527" y="1245" width="38" height="13"/><text class="l" x="546" y="1255">3.2.1.26</text></g>
<g><rect class="g" x="597" y="1232" width="38" height="13"/><text class="l" x="616" y="1242">3.2.1.26</text></g>
<g><rect class="g" x="643" y="1256" width="38" height="13"/><text class="l" x="662" y="1266">3.2.1.20</text></g>
<g><rect class="e" x="681" y="1256" width="38" height="13"/><text class="l" x="700" y="1266">3.2.1.10</text></g>
<g><rect class="g" x="527" y="1299" width="38" height="13"/><text class="l" x="546" y="1309">3.2.1.22</text></g>
<g><rect class="g" x="597" y="1331" width="38" height="13"/><text class="l" x="616" y="1341">3.2.1.22</text></g>
<g><rect class="e" x="745" y="1245" width="38" height="13"/><text class="l" x="764" y="1255">2.7.1.-</text></g>
<g><rect class="e" x="745" y="1318" width="38" height="13"/><text class="l" x="764" y="1328">3.5.1.25</text></g>
<g><rect class="e" x="703" y="1333" width="36" height="13"/><text class="l" x="721" y="1343">2.7.1.-</text></g>
<g><rect class="e" x="790" y="1363" width="38" height="13"/><text class="l" x="809" y="1373">3.5.99.-</text></g>
<g><rect class="g" x="815" y="1308" width="38" height="13"/><text class="l" x="834" y="1318">2.7.1.11</text></g>
<g><rect class="e" x="855" y="1308" width="40" height="13"/><text class="l" x="875" y="1318">2.7.1.144</text></g>
<g><rect class="e" x="222" y="1388" width="38" height="13"/><text class="l" x="241" y="1398">3.2.1.85</text></g>
<g><rect class="e" x="450" y="1411" width="38" height="13"/><text class="l" x="469" y="1421">5.3.1.26</text></g>
<g><rect class="e" x="880" y="1456" width="38" height="13"/><text class="l" x="899" y="1466">5.1.3.40</text></g>
<g><rect class="e" x="157" y="1450" width="38" height="13"/><text class="l" x="176" y="1460">1.1.1.21</text></g>
<g><rect class="e" x="475" y="1456" width="38" height="13"/><text class="l" x="494" y="1466">1.1.1.16</text></g>
<g><rect class="e" x="710" y="1456" width="40" height="13"/><text class="l" x="730" y="1466">2.7.1.101</text></g>
<g><rect class="e" x="475" y="1481" width="40" height="13"/><text class="l" x="495" y="1491">2.7.1.200</text></g>
<g><rect class="e" x="710" y="1481" width="40" height="13"/><text class="l" x="730" y="1491">1.1.1.251</text></g>
<g><rect class="g" x="86" y="1243" width="38" height="13"/><text class="l" x="105" y="1253">3.2.1.22</text></g>
<g><rect class="g" x="86" y="1295" width="38" height="13"/><text class="l" x="105" y="1305">3.2.1.22</text></g>
<g><rect class="g" x="86" y="1349" width="38" height="13"/><text class="l" x="105" y="1359">3.2.1.22</text></g>
<g><rect class="g" x="86" y="1401" width="38" height="13"/><text class="l" x="105" y="1411">3.2.1.22</text></g>
</g>
</g>
</svg>
